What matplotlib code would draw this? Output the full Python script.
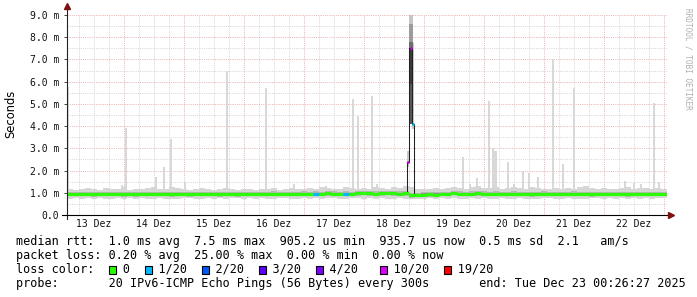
import numpy as np
import matplotlib
matplotlib.use("Agg")
import matplotlib.pyplot as plt
from matplotlib.patches import Rectangle

# ---------------- data (x = days since 13 Dez 00:00, y = milliseconds) ----------------
day_labels = ['13 Dez', '14 Dez', '15 Dez', '16 Dez', '17 Dez',
              '18 Dez', '19 Dez', '20 Dez', '21 Dez', '22 Dez']

# 100 consolidated columns, 2.4 h each
median_ms = [
    0.94, 0.94, 0.95, 0.94, 0.93, 0.94, 0.94, 0.95, 0.94, 0.93,
    0.94, 0.93, 0.94, 0.94, 0.95, 0.94, 0.94, 0.93, 0.94, 0.94,
    0.93, 0.94, 0.94, 0.95, 0.94, 0.93, 0.94, 0.94, 0.93, 0.94,
    0.94, 0.95, 0.94, 0.94, 0.96, 0.95, 0.94, 0.95, 0.95, 0.96,
    0.95, 0.96, 0.95, 0.97, 0.96, 0.95, 0.96, 0.95, 0.97, 0.98,
    0.97, 0.96, 0.97, 0.98, 0.97, 0.96, 0.97, 0.88, 0.89, 0.92,
    0.93, 0.92, 0.94, 0.95, 0.98, 0.96, 0.95, 0.96, 0.97, 0.96,
    0.95, 0.96, 0.95, 0.94, 0.96, 0.95, 0.94, 0.93, 0.95, 0.96,
    0.94, 0.95, 0.95, 0.94, 0.96, 0.95, 0.94, 0.93, 0.95, 0.94,
    0.94, 0.95, 0.94, 0.93, 0.94, 0.95, 0.94, 0.94, 0.95, 0.94,
]
smoke_hi = [
    1.18, 1.12, 1.15, 1.20, 1.16, 1.14, 1.22, 1.17, 1.15, 1.25,
    1.14, 1.18, 1.16, 1.20, 1.24, 1.15, 1.18, 1.28, 1.20, 1.16,
    1.14, 1.18, 1.22, 1.16, 1.13, 1.17, 1.20, 1.15, 1.14, 1.18,
    1.16, 1.12, 1.15, 1.18, 1.20, 1.14, 1.16, 1.22, 1.18, 1.15,
    1.22, 1.18, 1.24, 1.20, 1.16, 1.19, 1.28, 1.22, 1.18, 1.20,
    1.17, 1.24, 1.20, 1.16, 1.28, 1.22, 1.30, 1.25, 1.18, 1.15,
    1.16, 1.20, 1.18, 1.22, 1.25, 1.20, 1.18, 1.24, 1.30, 1.22,
    1.20, 1.26, 1.18, 1.22, 1.28, 1.20, 1.16, 1.24, 1.22, 1.18,
    1.15, 1.20, 1.17, 1.22, 1.18, 1.26, 1.30, 1.20, 1.16, 1.22,
    1.18, 1.16, 1.20, 1.24, 1.18, 1.20, 1.22, 1.17, 1.20, 1.18,
]
smoke_lo = [
    0.74, 0.76, 0.72, 0.75, 0.73, 0.76, 0.72, 0.74, 0.75, 0.72,
    0.75, 0.73, 0.76, 0.74, 0.72, 0.75, 0.74, 0.71, 0.74, 0.76,
    0.75, 0.73, 0.72, 0.76, 0.74, 0.75, 0.73, 0.76, 0.75, 0.74,
    0.76, 0.74, 0.75, 0.73, 0.74, 0.76, 0.75, 0.72, 0.74, 0.76,
    0.74, 0.75, 0.73, 0.76, 0.75, 0.74, 0.72, 0.75, 0.76, 0.74,
    0.75, 0.73, 0.76, 0.74, 0.72, 0.75, 0.74, 0.70, 0.72, 0.74,
    0.75, 0.73, 0.76, 0.74, 0.75, 0.72, 0.74, 0.76, 0.73, 0.75,
    0.74, 0.72, 0.76, 0.74, 0.73, 0.75, 0.72, 0.71, 0.74, 0.76,
    0.75, 0.74, 0.72, 0.76, 0.74, 0.73, 0.72, 0.75, 0.76, 0.74,
    0.75, 0.73, 0.76, 0.74, 0.75, 0.73, 0.76, 0.74, 0.75, 0.76,
]
loss_count = [0] * 100
loss_count[41] = 1
loss_count[46] = 1

# single-ping outliers (top of light gray spikes)
spike_day = [0.07, 0.97, 1.03, 1.53, 1.67, 1.78, 2.02, 2.72, 3.37, 3.83,
             4.37, 4.82, 4.90, 5.13, 5.22, 6.65, 6.77, 6.88, 7.08, 7.15,
             7.19, 7.40, 7.50, 7.65, 7.75, 7.90, 8.15, 8.32, 8.50, 9.35,
             9.50, 9.62, 9.83, 9.92]
spike_top = [5.75, 1.35, 3.90, 1.70, 2.15, 3.40, 1.50, 6.50, 5.70, 1.40,
             1.30, 5.20, 4.45, 5.35, 1.40, 2.60, 1.40, 1.65, 5.15, 3.00,
             2.90, 2.40, 1.40, 2.00, 1.90, 1.70, 7.00, 2.30, 5.70, 1.55,
             1.45, 1.40, 5.05, 1.50]

# latency event on 18 Dez
event_day = [5.733, 5.783, 5.822]
event_med = [2.4, 7.5, 4.1]
event_lo = [2.15, 4.1, 3.85]
event_hi = [2.9, 9.3, 7.75]
event_loss = [10, 10, 1]

loss_levels = [0, 1, 2, 3, 4, 10, 19]
loss_names = ['0', '1/20', '2/20', '3/20', '4/20', '10/20', '19/20']
loss_colors = ['#26ff00', '#00b8ff', '#0059ff', '#5e00ff', '#7e00ff', '#dd00ff', '#ff0000']


def loss_color(n):
    for lvl, c in zip(loss_levels, loss_colors):
        if n <= lvl:
            return c
    return loss_colors[-1]


# ---------------- figure ----------------
W, H = 697, 297
fig = plt.figure(figsize=(W / 100, H / 100), dpi=100)
fig.patch.set_facecolor('white')
ax = fig.add_axes([67 / W, 82 / H, 600 / W, 200 / H])

bin_day = 0.1 + 0.1 * np.arange(len(median_ms))
med = np.array(median_ms)
lo = np.array(smoke_lo)
hi = np.array(smoke_hi)

# dotted grid below the data
grid_kw = dict(lw=0.72, ls=(0, (1, 1.2)), zorder=0)
for d in np.arange(0.25, 10.05, 0.25):
    major = abs(d - round(d)) < 1e-6
    ax.axvline(d, color='#eeb2b2' if major else '#d6d6d6', **grid_kw)
for v in np.arange(0.5, 9.01, 0.5):
    major = abs(v - round(v)) < 1e-6
    ax.axhline(v, color='#eeb2b2' if major else '#d6d6d6', **grid_kw)

# smoke
ax.bar(spike_day, np.array(spike_top) - 1.0, bottom=1.0, width=0.042,
       color='#d8d8d8', lw=0, zorder=1.5)
ax.bar(bin_day, hi - lo, bottom=lo, width=0.1, color='#d6d6d6', lw=0, zorder=2)
mid_lo = np.maximum(lo, med - 0.10)
mid_hi = np.minimum(hi, med + 0.10)
ax.bar(bin_day, mid_hi - mid_lo, bottom=mid_lo, width=0.1, color='#b8b8b8', lw=0, zorder=2.1)
ax.bar(bin_day, 0.10, bottom=med - 0.05, width=0.1, color='#939393', lw=0, zorder=2.2)

# event columns
ev_w = [1.2 / 60, 3.4 / 60, 2.0 / 60]
ev_lo = np.array(event_lo)
ev_hi = np.array(event_hi)
ev_med = np.array(event_med)
ax.bar(event_day[0], ev_hi[0] - ev_lo[0], bottom=ev_lo[0], width=ev_w[0],
       color='#c8c8c8', lw=0, zorder=2.3)
ax.bar(event_day[2], ev_hi[2] - ev_lo[2], bottom=ev_lo[2], width=ev_w[2],
       color='#c8c8c8', lw=0, zorder=2.3)
# middle column: shaded from light (top) to dark (around and below the median)
mc = event_day[1]
ax.bar(mc, ev_hi[1] - ev_lo[1], bottom=ev_lo[1], width=ev_w[1], color='#c6c6c6', lw=0, zorder=2.4)
ax.bar(mc, 0.8, bottom=ev_med[1] + 0.3, width=ev_w[1], color='#9c9c9c', lw=0, zorder=2.5)
ax.bar(mc, 0.3, bottom=ev_med[1], width=ev_w[1], color='#6e6e6e', lw=0, zorder=2.5)
ax.bar(mc, 1.6, bottom=ev_med[1] - 1.6, width=ev_w[1], color='#3c3c3c', lw=0, zorder=2.5)
ax.bar(mc, ev_med[1] - 1.6 - ev_lo[1], bottom=ev_lo[1], width=ev_w[1],
       color='#5a5a5a', lw=0, zorder=2.5)

# dark median line under the coloured one
ax.step([5.70] + event_day + [5.845],
        [med[56]] + event_med + [med[57]],
        where='mid', color='#202020', lw=0.75, zorder=3)

# coloured median by loss
for d, m, n in zip(bin_day, med, loss_count):
    ax.hlines(m, d - 0.05, d + 0.05, color=loss_color(n), lw=2.3, zorder=4,
              capstyle='butt')
for d, m, n in zip(event_day, event_med, event_loss):
    ax.hlines(m, d - 0.017, d + 0.017, color=loss_color(n), lw=2.0, zorder=4,
              capstyle='butt')

ax.set_xlim(0.05, 10.05)
ax.set_ylim(0, 9)

# axes, ticks, arrows
for s in ['top', 'right', 'left', 'bottom']:
    ax.spines[s].set_visible(False)
ax.plot([0, 0], [-0.02, 1.03], transform=ax.transAxes, color='#222222', lw=0.8,
        clip_on=False, zorder=5)
ax.plot([-0.009, 1.005], [0, 0], transform=ax.transAxes, color='black', lw=0.8,
        clip_on=False, zorder=5)
ax.plot([0], [1.045], marker='^', ms=4.2, color='#7f1010', transform=ax.transAxes,
        clip_on=False, zorder=6)
ax.plot([1.0065], [0], marker='>', ms=4.2, color='#7f1010', transform=ax.transAxes,
        clip_on=False, zorder=6)

yt = list(range(10))
ax.set_yticks(yt, ['0.0'] + ['%.1f m' % v for v in yt[1:]])
ax.set_xticks(np.arange(10) + 0.5, day_labels)
ax.tick_params(axis='y', length=2.5, width=0.7, color='#444444', pad=3.0,
               labelsize=7, labelcolor='#111111')
ax.tick_params(axis='x', length=0, pad=3.2, labelsize=7, labelcolor='#111111')
for lab in ax.get_xticklabels() + ax.get_yticklabels():
    lab.set_family('DejaVu Sans Mono')

fig.text(11 / W, 1 - 114 / H, 'Seconds', rotation=90, ha='center', va='center',
         family='DejaVu Sans', fontsize=8.3)
fig.text(688 / W, 1 - 59 / H, 'RRDTOOL / TOBI OETIKER', rotation=270, ha='center',
         va='center', family='DejaVu Sans Mono', fontsize=5.6, color='#b0b0b0')

# legend block
mono = dict(family='DejaVu Sans Mono', fontsize=8.5, va='center', ha='left', color='black')
x0 = 16 / W
fig.text(x0, 1 - 241 / H,
         'median rtt:  1.0 ms avg  7.5 ms max  905.2 us min  935.7 us now  0.5 ms sd  2.1   am/s',
         **mono)
fig.text(x0, 1 - 255 / H,
         'packet loss: 0.20 % avg  25.00 % max  0.00 % min  0.00 % now', **mono)

sq_cols = [13, 18, 26, 34, 42, 51, 60]
row = [' '] * 70
row[0:11] = list('loss color:')
for c, name in zip(sq_cols, loss_names):
    row[c + 2:c + 2 + len(name)] = list(name)
fig.text(x0, 1 - 269 / H, ''.join(row).rstrip(), **mono)
cw = 7.11
for c, col in zip(sq_cols, loss_colors):
    fig.add_artist(Rectangle(((16 + c * cw + 1) / W, 1 - 273.5 / H), 7 / W, 7.5 / H,
                             transform=fig.transFigure, facecolor=col,
                             edgecolor='black', lw=0.8))

fig.text(x0, 1 - 283 / H,
         'probe:       20 IPv6-ICMP Echo Pings (56 Bytes) every 300s       end: Tue Dec 23 00:26:27 2025',
         **mono)

fig.savefig('out.png', dpi=100)
